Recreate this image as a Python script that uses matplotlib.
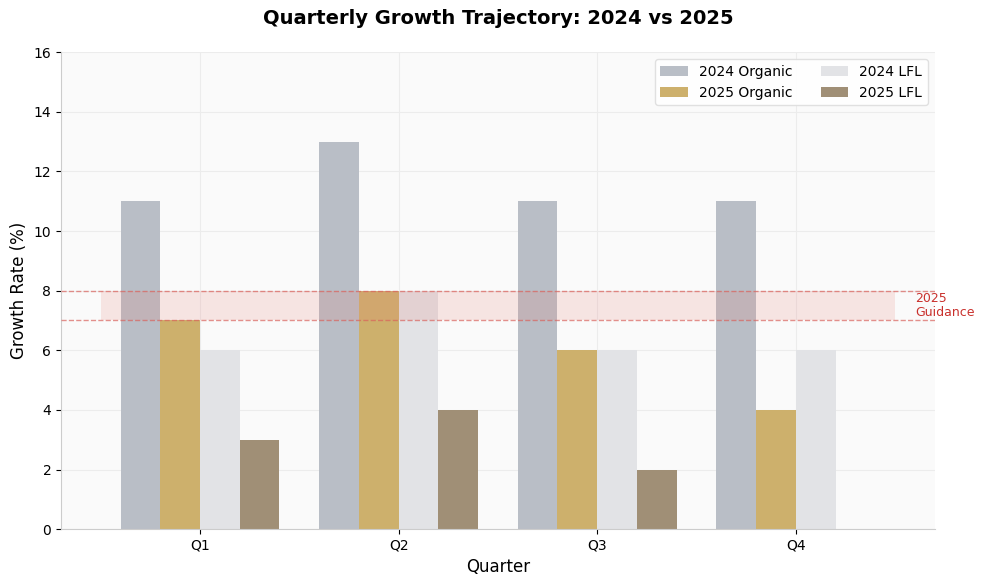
import numpy as np
import matplotlib
matplotlib.use("Agg")
import matplotlib.pyplot as plt

# Quarterly growth data (%)
quarters = ["Q1", "Q2", "Q3", "Q4"]
organic_2024 = [11, 13, 11, 11]
organic_2025 = [7, 8, 6, 4]
lfl_2024 = [6, 8, 6, 6]
lfl_2025 = [3, 4, 2, np.nan]

guidance_low = 7
guidance_high = 8

x = np.arange(len(quarters))
w = 0.2

fig, ax = plt.subplots(figsize=(9.84, 5.86), dpi=100)
ax.set_facecolor("#fafafa")

ax.bar(x - 1.5 * w, organic_2024, w, color="#b9bec6", label="2024 Organic", zorder=2)
ax.bar(x - 0.5 * w, organic_2025, w, color="#cdb06c", label="2025 Organic", zorder=2)
ax.bar(x + 0.5 * w, lfl_2024, w, color="#e2e3e6", label="2024 LFL", zorder=2)
ax.bar(x + 1.5 * w, lfl_2025, w, color="#a08f76", label="2025 LFL", zorder=2)

# guidance band
ax.fill_between([-0.5, 3.5], guidance_low, guidance_high, color="#e8827a",
                alpha=0.18, linewidth=0, zorder=3)
ax.axhline(guidance_low, color="#d9625c", linestyle="--", linewidth=1, alpha=0.7, zorder=3)
ax.axhline(guidance_high, color="#d9625c", linestyle="--", linewidth=1, alpha=0.7, zorder=3)
ax.text(3.6, (guidance_low + guidance_high) / 2, "2025\nGuidance", color="#c9302c",
        fontsize=9, va="center", ha="left", linespacing=1.1)

ax.set_xticks(x)
ax.set_xticklabels(quarters)
ax.set_xlim(-0.7, 3.7)
ax.set_ylim(0, 16)
ax.set_yticks(range(0, 17, 2))

ax.set_title("Quarterly Growth Trajectory: 2024 vs 2025", fontsize=14,
             fontweight="bold", pad=20)
ax.set_xlabel("Quarter", fontsize=12)
ax.set_ylabel("Growth Rate (%)", fontsize=12)

ax.grid(True, color="#ececec", linewidth=0.8, zorder=0)
ax.set_axisbelow(True)
for s in ["top", "right"]:
    ax.spines[s].set_visible(False)
for s in ["left", "bottom"]:
    ax.spines[s].set_color("#cccccc")

ax.legend(loc="upper right", ncol=2, fontsize=10, framealpha=0.9, edgecolor="#dddddd")

plt.subplots_adjust(left=0.062, right=0.950, top=0.911, bottom=0.097)
plt.savefig("out.png", dpi=100)
